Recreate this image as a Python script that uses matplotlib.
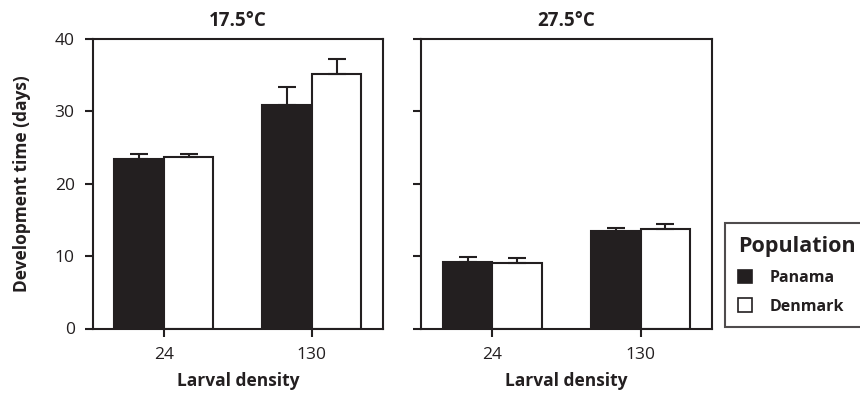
import matplotlib
matplotlib.use("Agg")
import matplotlib.pyplot as plt
from matplotlib.patches import Patch
import numpy as np

plt.rcParams['font.family'] = ['Open Sans', 'DejaVu Sans']

# Data
temperatures = ["17.5°C", "27.5°C"]
densities = ["24", "130"]
populations = ["Panama", "Denmark"]
# mean development time (days): [temperature][density]
panama_mean = [[23.4, 30.9], [9.2, 13.5]]
denmark_mean = [[23.7, 35.2], [9.1, 13.8]]
# upper error (days)
panama_err = [[0.7, 2.5], [0.7, 0.4]]
denmark_err = [[0.4, 2.0], [0.6, 0.7]]

ink = "#231f20"
fig = plt.figure(figsize=(8.6, 4.0), dpi=100)

axes_rects = [
    [92.7 / 860, 1 - 328.5 / 400, 290.3 / 860, 289.5 / 400],
    [421.0 / 860, 1 - 328.5 / 400, 291.0 / 860, 289.5 / 400],
]

x = np.arange(len(densities))
width = 0.335
lw = 1.5

for i, rect in enumerate(axes_rects):
    ax = fig.add_axes(rect)
    ax.bar(x - width / 2, panama_mean[i], width, color=ink, edgecolor=ink,
           linewidth=lw, yerr=[np.zeros(2), panama_err[i]], capsize=6.5,
           error_kw=dict(ecolor=ink, elinewidth=lw, capthick=lw), zorder=2)
    ax.bar(x + width / 2, denmark_mean[i], width, color="white", edgecolor=ink,
           linewidth=lw, yerr=[np.zeros(2), denmark_err[i]], capsize=6.5,
           error_kw=dict(ecolor=ink, elinewidth=lw, capthick=lw), zorder=2)
    ax.set_xlim(-0.482, 1.482)
    ax.set_ylim(0, 40)
    ax.set_yticks([0, 10, 20, 30, 40])
    ax.set_xticks(x)
    ax.set_xticklabels(densities)
    for sp in ax.spines.values():
        sp.set_linewidth(lw)
        sp.set_color(ink)
    ax.tick_params(axis="both", direction="out", length=6, width=lw,
                   color=ink, labelcolor=ink, labelsize=12.5, pad=7)
    if i == 1:
        ax.tick_params(axis="y", labelleft=False)
    else:
        ax.set_ylabel("Development time (days)", fontsize=12.5, fontweight="bold",
                      color=ink, labelpad=17)
    ax.set_xlabel("Larval density", fontsize=12.5, fontweight="bold", color=ink,
                  labelpad=7)
    ax.set_title(temperatures[i], fontsize=13.5, fontweight="bold", color=ink,
                 pad=9)

handles = [Patch(facecolor=ink, edgecolor=ink, linewidth=1.2),
           Patch(facecolor="white", edgecolor=ink, linewidth=1.2)]
leg = fig.legend(handles, populations, loc="upper left",
                 bbox_to_anchor=(725 / 860, 1 - 223 / 400),
                 title="Population", frameon=True, fancybox=False,
                 handlelength=0.9, handleheight=0.9, handletextpad=1.1,
                 labelspacing=0.8, borderpad=0.8, borderaxespad=0,
                 alignment="left",
                 prop=dict(size=11.5, weight="bold"),
                 title_fontproperties=dict(size=15.5, weight="bold"))
leg.get_frame().set_edgecolor(ink)
leg.get_frame().set_linewidth(lw)
for t in leg.get_texts():
    t.set_color(ink)
leg.get_title().set_color(ink)

fig.savefig("out.png", dpi=100)
